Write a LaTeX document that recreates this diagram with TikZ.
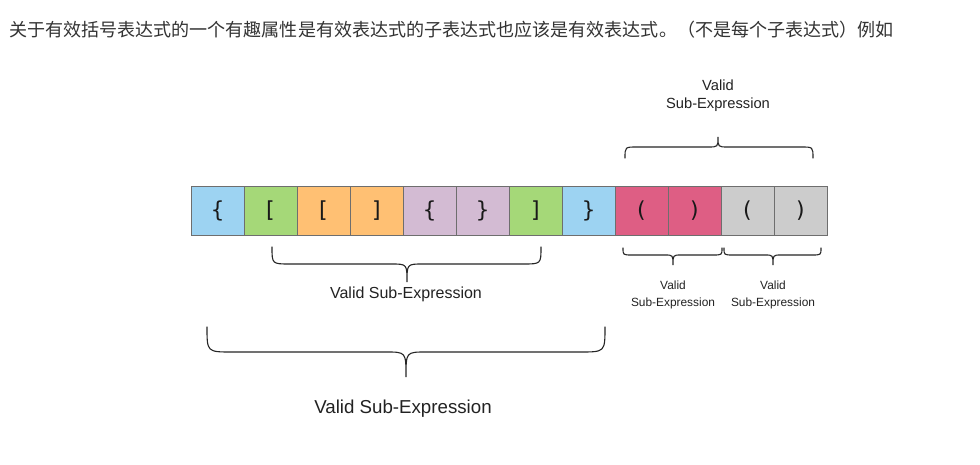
\documentclass[tikz,border=0pt]{standalone}
\usepackage{fontspec}
\setmainfont{Liberation Sans}
\newfontfamily\cjk{Noto Sans CJK SC}
\newfontfamily\brk{DejaVu Sans}
\definecolor{cblue}{HTML}{9DD3F2}
\definecolor{cgreen}{HTML}{A5D878}
\definecolor{corange}{HTML}{FFC073}
\definecolor{cpurple}{HTML}{D3BBD3}
\definecolor{cpink}{HTML}{DE5E84}
\definecolor{cgray}{HTML}{CCCCCC}
\definecolor{cborder}{HTML}{6E6E6E}
\definecolor{ctext}{HTML}{222222}
\newcommand\drawbrace[8]{\draw[bracestyle] (#1,#4) .. controls (#1,#5) .. ({#1+#7},#5) -- ({#3-#8},#5) .. controls (#3,#5) .. (#3,#6) .. controls (#3,#5) .. ({#3+#8},#5) -- ({#2-#7},#5) .. controls (#2,#5) .. (#2,#4);}
\begin{document}
\begin{tikzpicture}[x=1pt,y=-1pt,
  cell/.style={draw=cborder, line width=0.9pt, minimum width=53pt, minimum height=49pt, inner sep=0pt, font=\brk\fontsize{22}{24}\selectfont, text=black!90},
  bracestyle/.style={draw=black!85, line width=1.1pt, line cap=round},
  lbl/.style={text=ctext, inner sep=0pt, align=center}]
\useasboundingbox[fill=white] (0,0) rectangle (980,465);
\node[anchor=west, inner sep=0pt, text=black!80, font=\cjk\fontsize{18.05}{20}\selectfont] (title) at (9,30) {关于有效括号表达式的一个有趣属性是有效表达式的子表达式也应该是有效表达式。（不是每个子表达式）例如};
\foreach \i/\c/\t in {1/cblue/\{,2/cgreen/[,3/corange/[,4/corange/],5/cpurple/\{,6/cpurple/\},7/cgreen/],8/cblue/\},9/cpink/(,10/cpink/),11/cgray/(,12/cgray/)}{
  \node[cell, fill=\c] (c\i) at ({191+53*(\i-0.5)},210.5) {\t};
}
% braces
\drawbrace{625}{813}{718}{158}{147}{137}{12}{10}
\drawbrace{623}{722}{673}{248}{255}{265}{9}{8}
\drawbrace{724}{821}{773}{248}{255}{265}{9}{8}
\drawbrace{272}{541}{407}{247}{264}{282}{18}{16}
\drawbrace{207}{605}{406}{327}{352}{377}{25}{20}
% labels
\node[lbl, font=\fontsize{14.7}{18}\selectfont] (ltop) at (718,96) {Valid\\Sub-Expression};
\node[lbl, font=\fontsize{11.9}{17}\selectfont] (lsa) at (673,294.5) {Valid\\Sub-Expression};
\node[lbl, font=\fontsize{11.9}{17}\selectfont] (lsb) at (773,294.5) {Valid\\Sub-Expression};
\node[lbl, font=\fontsize{16}{18}\selectfont] (lmid) at (406,294.5) {Valid Sub-Expression};
\node[lbl, font=\fontsize{18.7}{20}\selectfont] (lbig) at (403,408.5) {Valid Sub-Expression};
\end{tikzpicture}
\end{document}
